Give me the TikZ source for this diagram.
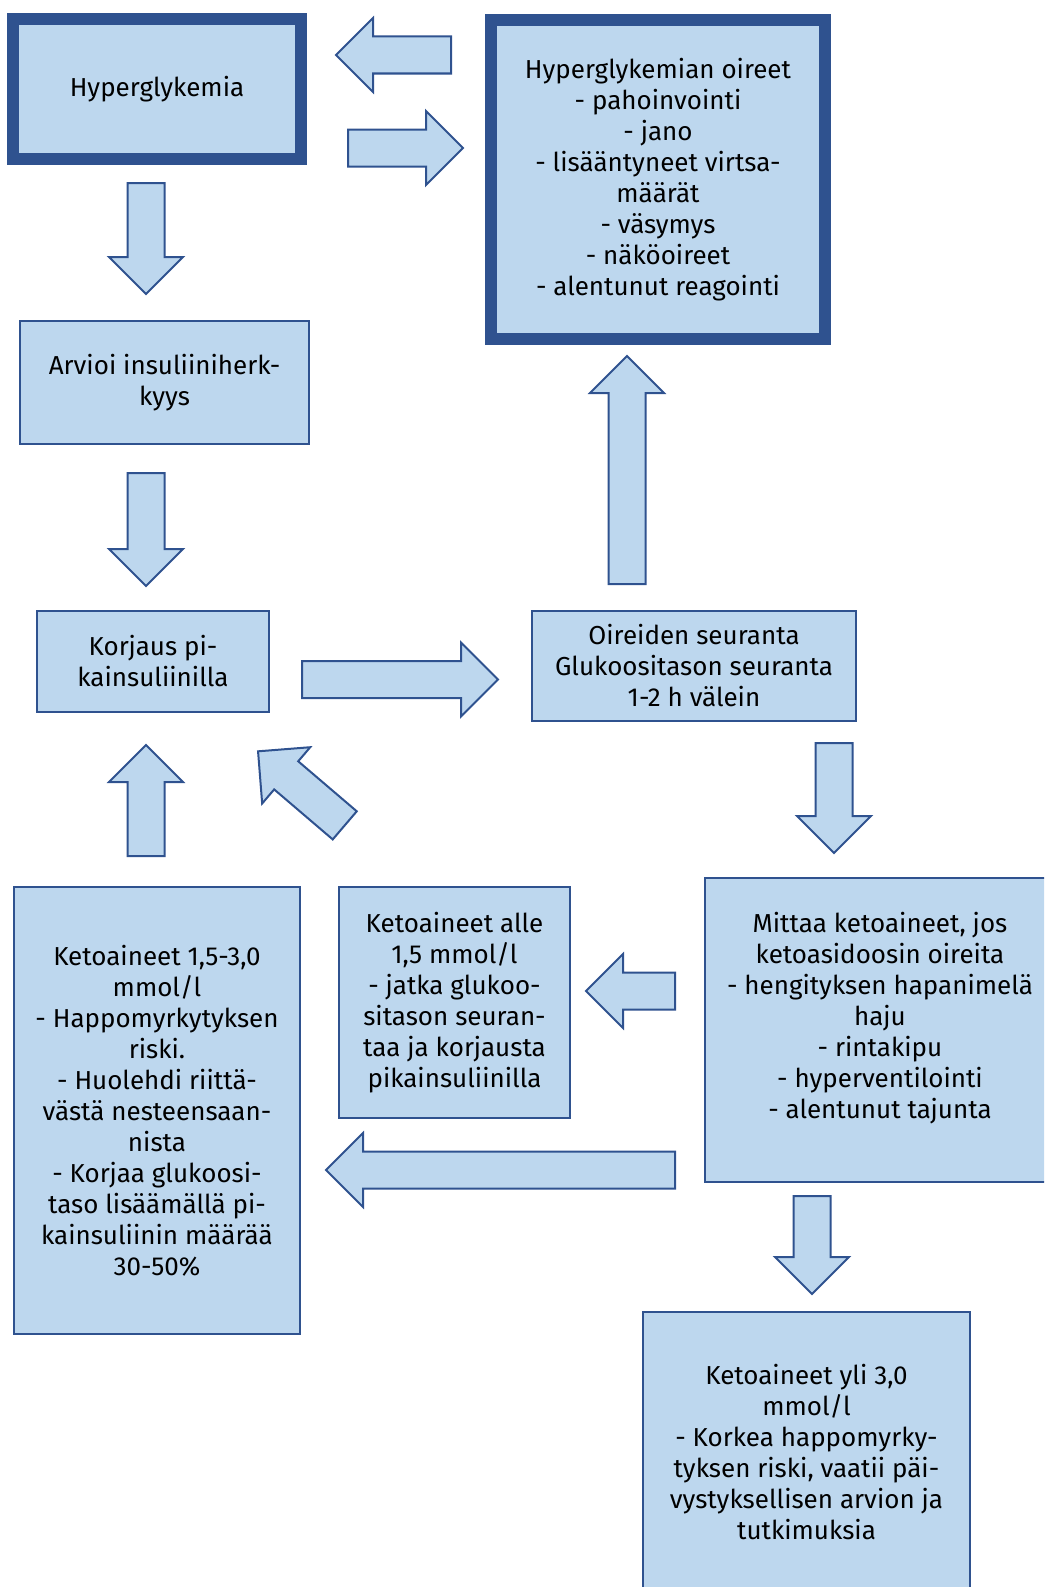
\documentclass[tikz,border=0pt]{standalone}
\usepackage{fontspec}
\setmainfont{Fira Sans}
\usetikzlibrary{shapes.arrows,positioning}
\definecolor{boxfill}{RGB}{189,215,238}
\definecolor{boxline}{RGB}{47,82,143}

\begin{document}
\begin{tikzpicture}[
    x=1pt, y=-1pt,
    box/.style={rectangle, draw=boxline, fill=boxfill, line width=2pt, align=center, inner sep=0pt, font=\fontsize{26}{31}\selectfont},
    thickbox/.style={box, line width=12pt},
    txt/.style={align=center, inner sep=0pt, font=\fontsize{26}{31}\selectfont},
    blockarrow/.style={single arrow, draw=boxline, fill=boxfill, line width=2pt, inner xsep=0pt, inner ysep=17.5pt, single arrow head extend=18.5pt, minimum width=0pt, anchor=tail}
]
\useasboundingbox (0,0) rectangle (1044,1587);
\clip (0,0) rectangle (1044,1587);

% Top row
\node[thickbox, minimum width=288pt, minimum height=140pt] (hyper) at (157,89) {Hyperglykemia};
\node[thickbox, minimum width=334pt, minimum height=319pt] (oireet) at (658,179.5) {Hyperglykemian oireet\\- pahoinvointi\\- jano\\- lisääntyneet virtsa-\\määrät\\- väsymys\\- näköoireet\\- alentunut reagointi};

% Left column
\node[box, minimum width=289pt, minimum height=123pt] (arvioi) at (164.5,382.5) {Arvioi insuliiniherk-\\kyys};
\node[box, minimum width=232pt, minimum height=101pt] (korjaus) at (153,661.5) {Korjaus pi-\\kainsuliinilla};
\node[box, minimum width=324pt, minimum height=110pt] (seuranta) at (694,666) {Oireiden seuranta\\Glukoositason seuranta\\1-2 h välein};

% Ketoaineet
\node[box, minimum width=350pt, minimum height=304pt] (mittaa) at (880,1030) {};
\node[txt] (mittaatxt) at (880,1018) {Mittaa ketoaineet, jos\\ketoasidoosin oireita\\- hengityksen hapanimelä\\haju\\- rintakipu\\- hyperventilointi\\- alentunut tajunta};
\node[box, minimum width=231pt, minimum height=231pt] (alle) at (454.5,1002.5) {Ketoaineet alle\\1,5 mmol/l\\- jatka glukoo-\\sitason seuran-\\taa ja korjausta\\pikainsuliinilla};
\node[box, minimum width=286pt, minimum height=447pt] (keto) at (157,1110.5) {Ketoaineet 1,5-3,0\\mmol/l\\- Happomyrkytyksen\\riski.\\- Huolehdi riittä-\\västä nesteensaan-\\nista\\- Korjaa glukoosi-\\taso lisäämällä pi-\\kainsuliinin määrää\\30-50\%};
\node[box, minimum width=327pt, minimum height=280pt] (yli) at (806.5,1452) {Ketoaineet yli 3,0\\mmol/l\\- Korkea happomyrky-\\tyksen riski, vaatii päi-\\vystyksellisen arvion ja\\tutkimuksia};

% Arrows (placed by their tails)
\node[blockarrow, minimum height=115pt, rotate=180] (toHyper) at (452,55) {};
\node[blockarrow, minimum height=115pt] (toOireet) at (347,148) {};
\node[blockarrow, minimum height=111pt, rotate=-90] (toArvioi) at (146,182) {};
\node[blockarrow, minimum height=113pt, rotate=-90] (toKorjaus) at (146,472) {};
\node[blockarrow, minimum height=196pt] (toSeuranta) at (301,679.5) {};
\node[blockarrow, minimum height=111pt, rotate=90] (ketoUp) at (146,857) {};
\node[blockarrow, minimum height=114pt, rotate=139.5] (alleUp) at (345.5,826) {};
\node[blockarrow, minimum height=228pt, rotate=90] (seurantaUp) at (627,585) {};
\node[blockarrow, minimum height=110pt, rotate=-90] (toMittaa) at (834,742) {};
\node[blockarrow, minimum height=89pt, rotate=180] (toAlle) at (676,991) {};
\node[blockarrow, minimum height=349pt, rotate=180] (toKeto) at (676,1170) {};
\node[blockarrow, minimum height=98pt, rotate=-90] (toYli) at (812,1195) {};

\end{tikzpicture}
\end{document}
